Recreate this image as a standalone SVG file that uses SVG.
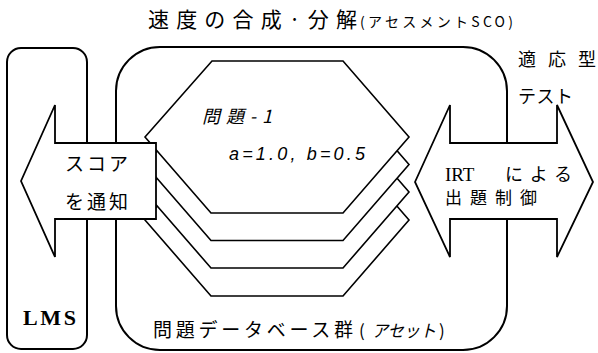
<svg xmlns="http://www.w3.org/2000/svg" width="598" height="353" viewBox="0 0 598 353">
<defs>
<style>
.box{fill:#fff;stroke:#000;stroke-width:2}
.hex{fill:#fff;stroke:#000;stroke-width:1.6;stroke-linejoin:miter}
.arrow{fill:#fff;stroke:#000;stroke-width:1.8;stroke-linejoin:miter}
.ja{font-family:"Noto Sans CJK JP","Liberation Sans",sans-serif;fill:#000}
.it{font-style:italic}
.serif{font-family:"Liberation Serif","Noto Sans CJK JP",serif;fill:#000}
.sans{font-family:"Liberation Sans","Noto Sans CJK JP",sans-serif;fill:#000}
</style>
<polygon id="hexshape" points="145,137 212,61 343,61 409,137 343,213 211,213"/>
</defs>
<rect width="598" height="353" fill="#fff"/>

<g id="title">
<text class="ja" x="148" y="27" font-size="21" textLength="209" lengthAdjust="spacing">速度の合成·分解</text>
<text class="ja" x="360" y="27" font-size="14" textLength="153" lengthAdjust="spacing">(アセスメントSCO)</text>
</g>

<g id="lms">
<rect class="box" x="7" y="48" width="80" height="301" rx="14"/>
<text class="serif" x="23" y="325" font-size="22" font-weight="bold" textLength="53" lengthAdjust="spacing">LMS</text>
</g>

<g id="database">
<rect class="box" x="116" y="47" width="391" height="303" rx="44"/>
<text class="ja" x="153" y="337" font-size="19" textLength="200" lengthAdjust="spacing">問題データベース群</text>
<text class="ja" x="359" y="337" font-size="17">(</text>
<text class="ja it" x="372" y="337" font-size="17" textLength="64" lengthAdjust="spacingAndGlyphs">アセット</text>
<text class="ja" x="439" y="337" font-size="17">)</text>
</g>

<g id="hex4"><use href="#hexshape" class="hex" transform="translate(0,83)"/></g>
<g id="hex3"><use href="#hexshape" class="hex" transform="translate(0,55)"/></g>
<g id="hex2"><use href="#hexshape" class="hex" transform="translate(0,27.5)"/></g>
<g id="hex1">
<use href="#hexshape" class="hex"/>
<text class="ja it" x="202" y="123" font-size="18" textLength="70" lengthAdjust="spacing">問題-1</text>
<text class="sans it" x="229" y="160" font-size="18" textLength="136" lengthAdjust="spacing">a=1.0, b=0.5</text>
</g>

<g id="connectors">
<g id="score-arrow">
<polygon class="arrow" points="21,181 55,105 55,143 156,143 156,219 55,219 55,257"/>
<text class="ja" x="65" y="171" font-size="19" textLength="63" lengthAdjust="spacing">スコア</text>
<text class="ja" x="65" y="209" font-size="19" textLength="63" lengthAdjust="spacing">を通知</text>
</g>
<g id="irt-arrow">
<polygon class="arrow" points="415,182 450,105 450,143 557,143 557,105 593,182 557,257 557,219 450,219 450,257"/>
<text y="181" font-size="19"><tspan class="serif" x="445">IRT</tspan><tspan class="ja" x="505" font-size="18" textLength="67" lengthAdjust="spacing">による</tspan></text>
<text class="ja" x="445" y="204" font-size="17" textLength="92" lengthAdjust="spacing">出題制御</text>
</g>
</g>

<g id="adaptive-label">
<text class="ja" x="518" y="66" font-size="18" textLength="78" lengthAdjust="spacing">適応型</text>
<text class="ja" x="518" y="103" font-size="18" textLength="55" lengthAdjust="spacing">テスト</text>
</g>
</svg>
